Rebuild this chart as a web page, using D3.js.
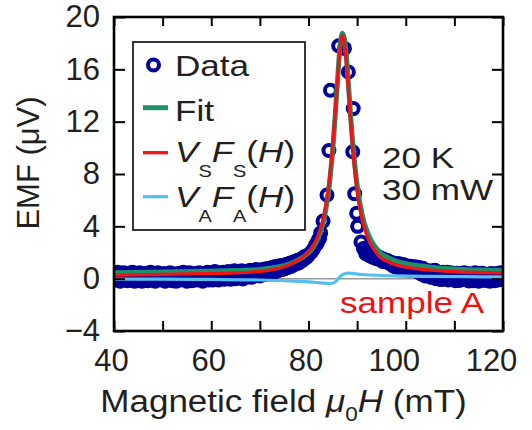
<!DOCTYPE html>
<html><head><meta charset="utf-8">
<script src="https://cdn.jsdelivr.net/npm/d3@7"></script>
<style>body{margin:0;background:#fff}svg{display:block}text{font-family:"Liberation Sans",Arial,sans-serif;fill:#231f20}</style>
</head><body>
<svg id="c" width="532" height="430"></svg>
<script>
// ---- data ----
const dataX = [
40,40.25,40.5,40.75,41,41.25,41.5,41.75,42,42.25,42.5,42.75,43,43.25,43.5,43.75,44,44.25,44.5,44.75,
45,45.25,45.5,45.75,46,46.25,46.5,46.75,47,47.25,47.5,47.75,48,48.25,48.5,48.75,49,49.25,49.5,49.75,
50,50.25,50.5,50.75,51,51.25,51.5,51.75,52,52.25,52.5,52.75,53,53.25,53.5,53.75,54,54.25,54.5,54.75,
55,55.25,55.5,55.75,56,56.25,56.5,56.75,57,57.25,57.5,57.75,58,58.25,58.5,58.75,59,59.25,59.5,59.75,
60,60.25,60.5,60.75,61,61.25,61.5,61.75,62,62.25,62.5,62.75,63,63.25,63.5,63.75,64,64.25,64.5,64.75,
65,65.25,65.5,65.75,66,66.25,66.5,66.75,67,67.25,67.5,67.75,68,68.25,68.5,68.75,69,69.25,69.5,69.75,
70,70.25,70.5,70.75,71,71.25,71.5,71.75,72,72.25,72.5,72.75,73,73.25,73.5,73.75,74,74.25,74.5,74.75,
75,75.25,75.5,75.75,76,76.25,76.5,76.75,77,77.25,77.5,77.75,78,78.25,78.5,78.75,79,79.25,79.5,79.75,
80,80.5,81,81.5,81.8,82,82.3,82.5,83,83.8,84.2,84.5,86.2,87.4,88.2,89.2,89.1,89.5,89.9,90.1,90.8,91.3,91.8,
92,92.25,92.5,92.75,93,93.25,93.5,93.75,94,94.25,94.5,94.75,95,95.25,95.5,95.75,96,96.25,96.5,96.75,
97,97.25,97.5,97.75,98,98.25,98.5,98.75,99,99.25,99.5,99.75,100,100.25,100.5,100.75,101,101.25,101.5,101.75,
102,102.25,102.5,102.75,103,103.25,103.5,103.75,104,104.25,104.5,104.75,105,105.25,105.5,105.75,106,106.25,106.5,106.75,
107,107.25,107.5,107.75,108,108.25,108.5,108.75,109,109.25,109.5,109.75,110,110.25,110.5,110.75,111,111.25,111.5,111.75,
112,112.25,112.5,112.75,113,113.25,113.5,113.75,114,114.25,114.5,114.75,115,115.25,115.5,115.75,116,116.25,116.5,116.75,
117,117.25,117.5,117.75,118,118.25,118.5,118.75,119,119.25,119.5,119.75,120];
const dataY = [
0.4,-0.1,0.2,0.5,0.0,-0.2,0.3,0.1,0.45,-0.05,0.25,-0.15,0.4,0.15,-0.1,0.5,0.2,-0.2,0.35,0.05,
0.3,0.45,-0.05,-0.2,0.2,0.4,0.0,0.3,-0.15,0.15,0.5,-0.1,0.25,0.1,-0.2,0.35,0.45,0.0,0.2,-0.1,
0.05,0.4,-0.2,0.3,0.15,-0.05,0.45,0.25,-0.15,0.1,0.35,-0.2,0.0,0.4,0.2,-0.1,0.3,0.5,-0.05,0.15,
-0.2,0.25,0.45,0.05,-0.15,0.3,0.1,0.4,-0.1,0.2,0.45,-0.05,0.15,-0.2,0.35,0.0,0.25,0.5,-0.1,0.1,
0.2,-0.1,0.4,0.55,0.0,0.3,-0.1,0.45,0.2,0.05,0.5,-0.05,0.3,0.1,0.55,0.25,-0.05,0.4,0.15,0.6,
0.0,0.35,0.5,0.1,0.25,0.6,-0.02,0.4,0.2,0.55,0.15,0.45,0.65,0.1,0.35,0.55,0.25,0.7,0.3,0.5,
0.2,0.55,0.7,0.3,0.5,0.75,0.35,0.6,0.8,0.45,0.7,0.9,0.5,0.75,0.95,0.6,0.85,1.0,0.7,0.9,
0.75,1.0,1.1,0.85,1.05,1.2,0.95,1.15,1.3,1.1,1.25,1.4,1.2,1.35,1.5,1.4,1.55,1.7,1.6,1.75,
1.8,2.0,2.25,2.6,2.7,2.95,3.1,3.5,4.4,6.4,9.8,14.4,17.8,17.6,15.8,13.0,9.7,6.5,5.0,4.0,2.8,2.3,1.9,
2.0,1.85,1.78,1.9,1.68,1.75,1.6,1.72,1.52,1.62,1.65,1.45,1.55,1.32,1.48,1.43,1.3,1.38,1.2,1.26,
1.25,1.05,0.95,1.15,0.9,1.05,1.16,0.85,0.72,0.98,1.08,0.8,1.0,0.7,0.9,0.62,0.95,0.78,0.88,0.65,
0.92,0.6,0.51,0.85,0.6,0.35,0.8,0.5,0.2,0.65,0.3,0.55,0.45,0.1,0.6,0.25,0.65,0.0,0.4,0.12,
0.45,-0.07,0.3,0.5,0.0,0.3,0.49,-0.1,0.2,0.45,0.03,0.35,0.22,-0.15,0.42,0.1,-0.14,0.4,0.31,0.0,
0.45,-0.06,0.24,0.4,-0.17,0.33,0.1,-0.15,0.13,0.45,0.0,0.37,-0.2,0.25,-0.03,0.42,0.15,-0.14,0.3,0.05,
0.26,-0.2,0.4,0.1,0.35,-0.15,0.15,0.4,-0.1,0.2,0.45,-0.05,0.2];

const curveX = [40,50,58,65,68,70,72,74,76,78,80,81,82,83,84,84.5,85,85.5,86,86.5,87,87.5,88,88.5,89,89.5,90,91,92,93,94,95,96,98,100,102,105,110,115,120];
const fitY   = [0.46,0.51,0.56,0.62,0.66,0.71,0.79,0.92,1.12,1.45,1.98,2.42,3.1,4.25,6.3,7.9,9.9,12.5,15.3,17.8,18.75,18.1,16.0,13.3,10.8,8.8,7.15,4.95,3.65,2.85,2.3,1.9,1.68,1.35,1.15,1.02,0.88,0.73,0.66,0.62];
const vsY    = [0.28,0.33,0.38,0.45,0.50,0.56,0.66,0.80,1.05,1.45,2.05,2.55,3.3,4.55,6.7,8.3,10.3,12.8,15.45,17.7,18.6,17.7,15.45,12.8,10.3,8.3,6.7,4.55,3.3,2.5,1.95,1.55,1.35,1.05,0.88,0.76,0.65,0.53,0.47,0.44];

const vaX = [40,50,60,70,75,78,80,82,83.5,84.5,85.3,86,86.8,87.6,88.2,89,91,94,98,105,112,120];
const vaY = [-0.03,-0.04,-0.06,-0.10,-0.15,-0.2,-0.24,-0.3,-0.35,-0.37,-0.30,-0.05,0.25,0.40,0.43,0.40,0.32,0.26,0.21,0.17,0.15,0.13];

const xTickAll = [40,50,60,70,80,90,100,110,120];
const xTickLabels = [40,60,80,100,120];
const yTicks = [-4,0,4,8,12,16,20];

// ---- colours ----
const C_DATA = "#000099", C_FIT = "#1f9068", C_VS = "#f01414", C_VA = "#55bff2", C_TXT = "#231f20";

const svg = d3.select("#c");
const L = 114, R = 503, T = 17, B = 331;
const x = d3.scaleLinear().domain([40,120]).range([L,R]);
const y = d3.scaleLinear().domain([-4,20]).range([B,T]);

svg.append("defs").append("clipPath").attr("id","pc")
  .append("rect").attr("x",L).attr("y",T).attr("width",R-L).attr("height",B-T);

const plot = svg.append("g").attr("clip-path","url(#pc)");

// zero line
plot.append("line").attr("x1",x(40)).attr("x2",x(120)).attr("y1",y(0)).attr("y2",y(0))
  .attr("stroke","#999").attr("stroke-width",1.5);

// data circles
plot.append("g").selectAll("circle").data(dataX.map((v,i)=>[v,dataY[i]])).join("circle")
  .attr("cx",d=>x(d[0])).attr("cy",d=>y(d[1])).attr("r",5.5)
  .attr("fill","none").attr("stroke",C_DATA).attr("stroke-width",4);

const line = d3.line().x(d=>x(d[0])).y(d=>y(d[1])).curve(d3.curveMonotoneX);
plot.append("path").datum(curveX.map((v,i)=>[v,fitY[i]])).attr("d",line)
  .attr("fill","none").attr("stroke",C_FIT).attr("stroke-width",5);
plot.append("path").datum(curveX.map((v,i)=>[v,vsY[i]])).attr("d",line)
  .attr("fill","none").attr("stroke",C_VS).attr("stroke-width",3.3);
plot.append("path").datum(vaX.map((v,i)=>[v,vaY[i]])).attr("d",line)
  .attr("fill","none").attr("stroke",C_VA).attr("stroke-width",3.2);

// axes (ticks inward on all sides)
const ax = svg.append("g");
function styleAxis(g){
  g.select(".domain").remove();
  g.selectAll(".tick line").attr("stroke","#000").attr("stroke-width",2);
}
ax.append("g").attr("transform",`translate(${L},0)`)
  .call(d3.axisLeft(y).tickValues(yTicks).tickSizeInner(-11).tickSizeOuter(0).tickPadding(14).tickFormat(d3.format("d")))
  .call(styleAxis)
  .selectAll("text").attr("font-size",31).attr("fill",C_TXT).attr("font-family","Liberation Sans, Arial, sans-serif");
ax.append("g").attr("transform",`translate(${R},0)`)
  .call(d3.axisRight(y).tickValues(yTicks).tickSizeInner(-11).tickSizeOuter(0).tickFormat(""))
  .call(styleAxis);
const xb = ax.append("g").attr("transform",`translate(0,${B})`)
  .call(d3.axisBottom(x).tickValues(xTickAll).tickSizeInner(-10).tickSizeOuter(0).tickPadding(18)
    .tickFormat(d=>xTickLabels.includes(d)?String(d):""))
  .call(styleAxis);
xb.selectAll("text").attr("font-size",31).attr("fill",C_TXT).attr("font-family","Liberation Sans, Arial, sans-serif")
  .attr("dx",d=>String(d).length>2?-12:-3);
ax.append("g").attr("transform",`translate(0,${T})`)
  .call(d3.axisTop(x).tickValues(xTickAll).tickSizeInner(-9).tickSizeOuter(0).tickFormat(""))
  .call(styleAxis);

// frame
svg.append("rect").attr("x",L).attr("y",T).attr("width",R-L).attr("height",B-T)
  .attr("fill","none").attr("stroke","#000").attr("stroke-width",2.6);

// helper for horizontally stretched text
function sText(px,py,sx,anchor,size){
  return svg.append("g").attr("transform",`translate(${px},${py}) scale(${sx},1)`)
    .append("text").attr("text-anchor",anchor||"start").attr("font-size",size||30);
}

// axis titles
const xt = sText(283.5,412,1.13,"middle",31);
xt.append("tspan").text("Magnetic field ");
xt.append("tspan").attr("font-style","italic").text("μ");
xt.append("tspan").attr("font-size",20).attr("dy",9).text("0");
xt.append("tspan").attr("font-style","italic").attr("dy",-9).text("H");
xt.append("tspan").text(" (mT)");

svg.append("text").attr("transform","translate(39,163) rotate(-90)")
  .attr("text-anchor","middle").attr("font-size",31).text("EMF (μV)");

// legend
svg.append("rect").attr("x",133).attr("y",42).attr("width",172).attr("height",188)
  .attr("fill","none").attr("stroke",C_TXT).attr("stroke-width",1.8);
svg.append("circle").attr("cx",153.5).attr("cy",65).attr("r",5.5)
  .attr("fill","none").attr("stroke",C_DATA).attr("stroke-width",4);
svg.append("line").attr("x1",143).attr("x2",168).attr("y1",107.7).attr("y2",107.7).attr("stroke",C_FIT).attr("stroke-width",5);
svg.append("line").attr("x1",143).attr("x2",168).attr("y1",152.7).attr("y2",152.7).attr("stroke",C_VS).attr("stroke-width",3.3);
svg.append("line").attr("x1",143).attr("x2",168).attr("y1",196.7).attr("y2",196.7).attr("stroke",C_VA).attr("stroke-width",3.3);
sText(175,75.5,1.17,"start",30).text("Data");
sText(175,120.5,1.17,"start",30).text("Fit");
function vf(py,sub){
  const t = sText(175,py,1.17,"start",30);
  t.append("tspan").attr("font-style","italic").text("V");
  t.append("tspan").attr("font-size",17).attr("dy",15).text(sub);
  t.append("tspan").attr("font-style","italic").attr("dy",-15).text("F");
  t.append("tspan").attr("font-size",17).attr("dy",15).text(sub);
  t.append("tspan").attr("dy",-15).text("(");
  t.append("tspan").attr("font-style","italic").text("H");
  t.append("tspan").text(")");
}
vf(161.7,"S");
vf(206.7,"A");

// annotations
sText(382,168,1.17,"start",30).text("20 K");
sText(382,200,1.17,"start",30).text("30 mW");
sText(340,313,1.17,"start",30).style("fill","#ee1111").text("sample A");
</script>
</body></html>
